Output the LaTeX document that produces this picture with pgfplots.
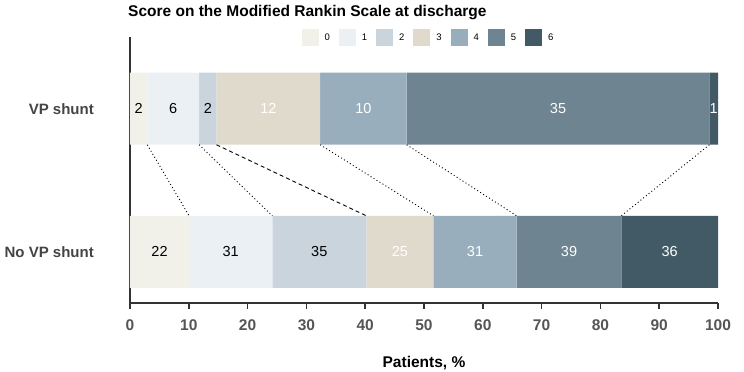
\documentclass[border=0pt]{standalone}
\usepackage{fontspec}
\setmainfont{Liberation Sans}
\usepackage{pgfplots}
\pgfplotsset{compat=1.18}
\definecolor{c0}{HTML}{F1F1EA}
\definecolor{c1}{HTML}{EBF0F4}
\definecolor{c2}{HTML}{C9D4DD}
\definecolor{c3}{HTML}{E0DACC}
\definecolor{c4}{HTML}{98AEBC}
\definecolor{c5}{HTML}{6E8490}
\definecolor{c6}{HTML}{415A66}
\definecolor{axgray}{HTML}{333333}
\definecolor{lblgray}{HTML}{444444}
\definecolor{tickgray}{HTML}{555555}
\begin{document}
\begin{tikzpicture}
\useasboundingbox (-130bp,-69.3bp) rectangle (614bp,302.7bp);
\pgfplotsset{common/.style={width=588bp,height=266bp,scale only axis,
  xmin=0,xmax=100,ymin=-0.355,ymax=1.503,at={(0,0)},anchor=south west}}
\begin{axis}[common,
  xbar stacked, bar width=72bp,
  axis lines*=left,
  axis line style={color=axgray, line width=2bp},
  xtick={0,10,...,100},
  ytick={0,1}, yticklabels={No VP shunt, VP shunt},
  ytick style={draw=none},
  xtick style={color=axgray, line width=1.5bp},
  major tick length=6bp, tick align=outside,
  /pgf/number format/assume math mode=true,
  xticklabel style={font=\bfseries\fontsize{15.5bp}{17bp}\selectfont, text=tickgray, anchor=base, inner sep=0pt, yshift=-22bp},
  yticklabel style={font=\bfseries\fontsize{15bp}{17bp}\selectfont, text=lblgray, anchor=east, inner sep=0pt, xshift=-30bp},
  xlabel={Patients, \%},
  xlabel style={font=\bfseries\fontsize{15.5bp}{17bp}\selectfont, at={(0.5,0)}, anchor=base, yshift=-64.3bp, inner sep=0pt},
  title={Score on the Modified Rankin Scale at discharge},
  title style={font=\bfseries\fontsize{15.5bp}{17bp}\selectfont, at={(0,1)}, anchor=base west, yshift=14.7bp, xshift=-2bp, inner sep=0pt},
  legend style={at={(0.5,1)}, anchor=center, xshift=4bp, yshift=-1bp, draw=none, fill=none,
    font=\fontsize{9.5bp}{10bp}\selectfont,
    /tikz/every odd column/.append style={column sep=5bp},
    /tikz/every even column/.append style={column sep=8bp},
    nodes={inner sep=1bp}},
  legend columns=7,
  legend image code/.code={\fill[#1] (0bp,-8.5bp) rectangle (17bp,8.5bp);},
]
\addplot[fill=c0, draw=none] coordinates {(2.941,1) (10.046,0)};
\addplot[fill=c1, draw=none] coordinates {(8.824,1) (14.155,0)};
\addplot[fill=c2, draw=none] coordinates {(2.941,1) (15.982,0)};
\addplot[fill=c3, draw=none] coordinates {(17.647,1) (11.416,0)};
\addplot[fill=c4, draw=none] coordinates {(14.706,1) (14.155,0)};
\addplot[fill=c5, draw=none] coordinates {(51.471,1) (17.808,0)};
\addplot[fill=c6, draw=none] coordinates {(1.471,1) (16.438,0)};
\legend{0,1,2,3,4,5,6}
\end{axis}
\begin{axis}[common, hide axis]
\addplot[draw=none, mark=none, nodes near coords, point meta=explicit symbolic,
  every node near coord/.append style={anchor=center, text=black, font=\fontsize{14.5bp}{16bp}\selectfont}]
  coordinates {(1.47,1)[2] (7.35,1)[6] (13.24,1)[2] (5.02,0)[22] (17.12,0)[31] (32.19,0)[35]};
\addplot[draw=none, mark=none, nodes near coords, point meta=explicit symbolic,
  every node near coord/.append style={anchor=center, text=white, font=\fontsize{14.5bp}{16bp}\selectfont}]
  coordinates {(23.53,1)[12] (39.71,1)[10] (72.79,1)[35] (99.26,1)[1] (45.89,0)[25] (58.68,0)[31] (74.66,0)[39] (91.78,0)[36]};
\addplot[black, line width=0.9bp, dash pattern=on 1bp off 2.5bp] coordinates {(2.941,0.748) (10.046,0.252)};
\addplot[black, line width=0.9bp, dash pattern=on 1bp off 2.5bp] coordinates {(11.765,0.748) (24.201,0.252)};
\addplot[black, line width=0.9bp, dash pattern=on 4bp off 3bp] coordinates {(14.706,0.748) (40.183,0.252)};
\addplot[black, line width=0.9bp, dash pattern=on 1bp off 2.5bp] coordinates {(32.353,0.748) (51.598,0.252)};
\addplot[black, line width=0.9bp, dash pattern=on 1bp off 2.5bp] coordinates {(47.059,0.748) (65.753,0.252)};
\addplot[black, line width=0.9bp, dash pattern=on 1bp off 2.5bp] coordinates {(98.529,0.748) (83.562,0.252)};
\end{axis}
\end{tikzpicture}
\end{document}
